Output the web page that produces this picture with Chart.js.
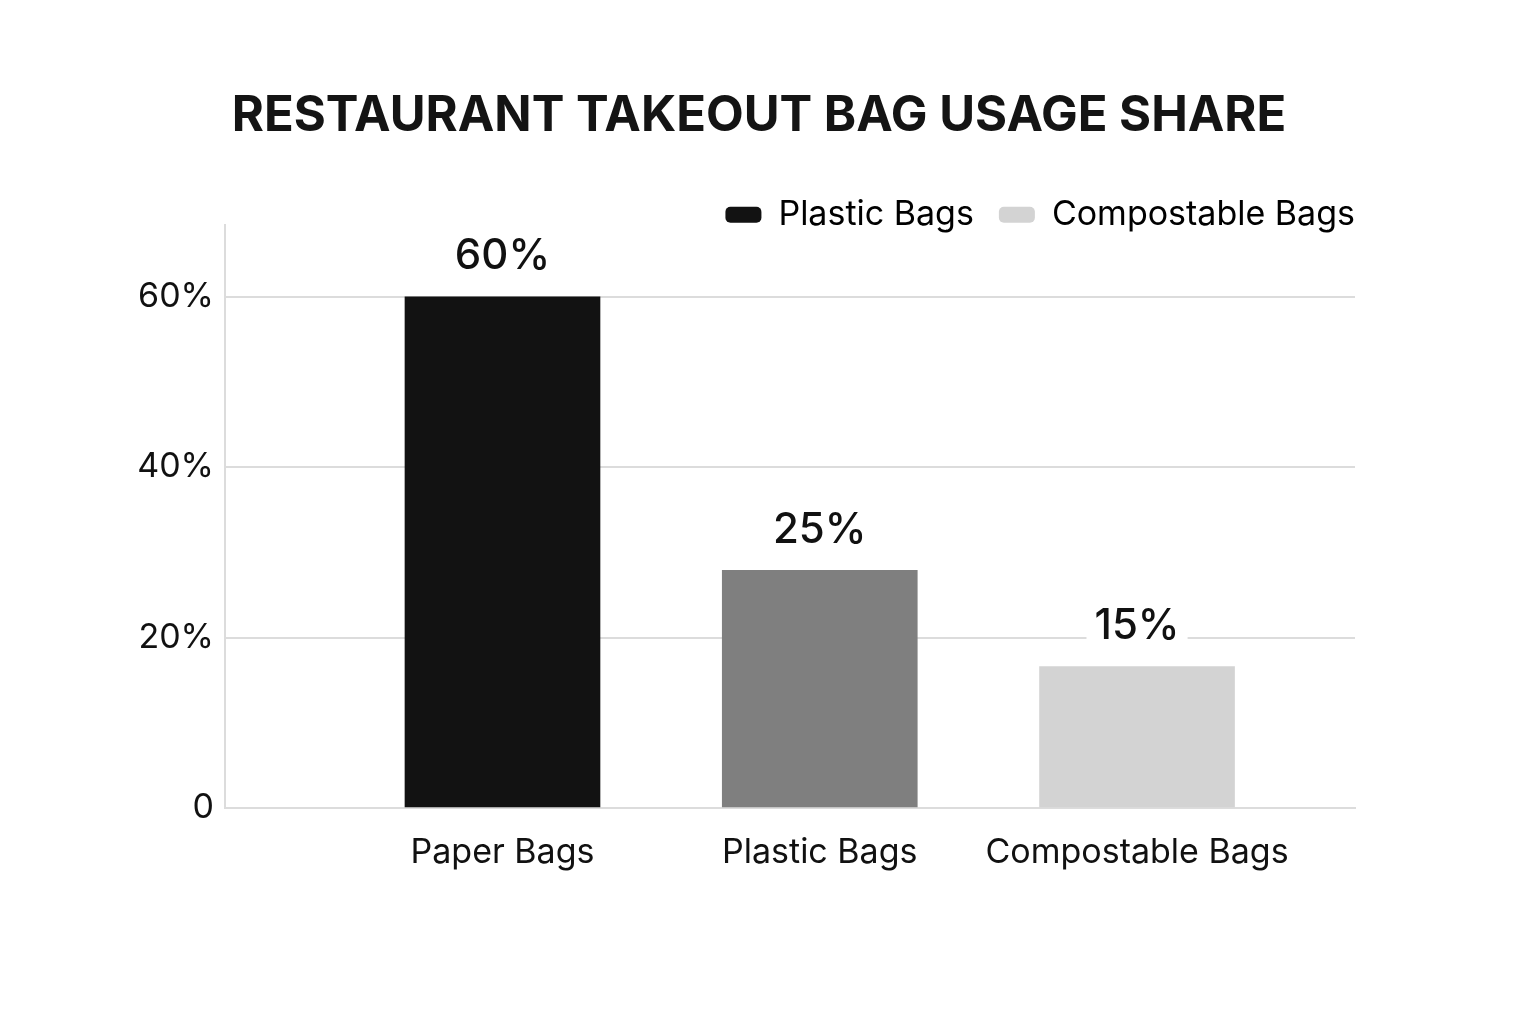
<!DOCTYPE html>
<html>
<head>
<meta charset="utf-8">
<script src="https://cdn.jsdelivr.net/npm/chart.js@4.4.1/dist/chart.umd.min.js"></script>
<style>
  html, body { margin: 0; padding: 0; background: #fff; }
  #wrap { width: 1536px; height: 1024px; }
</style>
</head>
<body>
<div id="wrap"><canvas id="bagChart"></canvas></div>
<script>
// chart values
const categories = ['Paper Bags', 'Plastic Bags', 'Compostable Bags'];
const shareValues = [60, 27.9, 16.6];
const valueLabels = ['60%', '25%', '15%'];
const barColors = ['#121212', '#7f7f7f', '#d3d3d3'];
const yTicks = [0, 20, 40, 60];
const legendItems = ['Plastic Bags', 'Compostable Bags'];
const legendColors = ['#121212', '#d3d3d3'];

const FONT = 'Inter, "Noto Sans", sans-serif';

// draws the value text above each bar on a white patch
const valueLabelPlugin = {
    id: 'valueLabels',
    afterDatasetsDraw(chart) {
        const ctx = chart.ctx;
        const meta = chart.getDatasetMeta(0);
        ctx.save();
        ctx.font = '500 42px ' + FONT;
        ctx.textAlign = 'center';
        ctx.textBaseline = 'middle';
        meta.data.forEach((bar, i) => {
            const text = valueLabels[i];
            const w = ctx.measureText(text).width;
            const y = bar.y - 40;
            ctx.fillStyle = '#ffffff';
            ctx.fillRect(bar.x - w / 2 - 8, y - 22, w + 16, 44);
            ctx.fillStyle = '#111111';
            ctx.fillText(text, bar.x, y);
        });
        ctx.restore();
    }
};

// legend box is kept short for layout; let it draw past its bottom edge
const legendClipFix = {
    id: 'legendClipFix',
    beforeDraw(chart) {
        const lg = chart.legend;
        if (lg) {
            lg.height = 80;
            lg.bottom = lg.top + 80;
        }
    }
};

const ctx = document.getElementById('bagChart').getContext('2d');

new Chart(ctx, {
    type: 'bar',
    data: {
        datasets: [{
            label: 'Share',
            data: categories.map((c, i) => ({ x: i + 1, y: shareValues[i] })),
            backgroundColor: barColors,
            borderWidth: 0,
            barThickness: 195
        }]
    },
    options: {
        responsive: true,
        maintainAspectRatio: false,
        animation: false,
        layout: {
            padding: { left: 138, right: 156, top: 0, bottom: 0 }
        },
        plugins: {
            title: {
                display: true,
                text: 'RESTAURANT TAKEOUT BAG USAGE SHARE',
                color: '#141414',
                font: { family: FONT, size: 49, weight: 'bold' },
                padding: { top: 87, bottom: 27 }
            },
            legend: {
                display: true,
                align: 'end',
                maxHeight: 52,
                labels: {
                    color: '#111',
                    font: { family: FONT, size: 34 },
                    boxWidth: 36,
                    boxHeight: 16,
                    useBorderRadius: true,
                    borderRadius: 5,
                    padding: 25,
                    generateLabels: () => legendItems.map((t, i) => ({
                        text: t,
                        fillStyle: legendColors[i],
                        strokeStyle: legendColors[i],
                        lineWidth: 0,
                        hidden: false,
                        borderRadius: 5
                    }))
                }
            },
            tooltip: { enabled: false }
        },
        scales: {
            x: {
                type: 'linear',
                offset: false,
                min: 0.1254,
                max: 3.687,
                afterBuildTicks: (scale) => {
                    scale.ticks = categories.map((c, i) => ({ value: i + 1 }));
                },
                afterFit: (scale) => { scale.height = 216; },
                grid: { display: false, drawTicks: false, offset: false },
                border: { display: true, color: '#dcdcdc', width: 2 },
                ticks: {
                    color: '#111',
                    font: { family: FONT, size: 34 },
                    padding: 24,
                    maxRotation: 0,
                    autoSkip: false,
                    callback: (v) => categories[v - 1] || ''
                }
            },
            y: {
                min: 0,
                max: 68.45,
                afterBuildTicks: (scale) => {
                    scale.ticks = yTicks.map(v => ({ value: v }));
                },
                afterFit: (scale) => { scale.width = 225 - 138; },
                grid: { color: '#dcdcdc', lineWidth: 2, drawTicks: false },
                border: { display: true, color: '#dcdcdc', width: 2 },
                ticks: {
                    color: '#111',
                    font: { family: FONT, size: 34 },
                    padding: 11,
                    callback: (v) => v === 0 ? '0' : v + '%'
                }
            },
            // empty spacer on the right so the plot ends where the grid ends
            spacer: {
                position: 'right',
                display: true,
                afterFit: (scale) => { scale.width = 1536 - 156 - 1355; },
                grid: { display: false, drawTicks: false },
                border: { display: false },
                ticks: { display: false }
            }
        }
    },
    plugins: [valueLabelPlugin, legendClipFix]
});
</script>
</body>
</html>
